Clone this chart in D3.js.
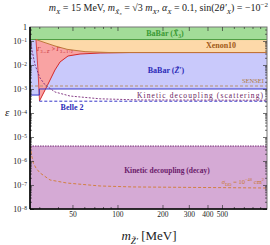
<!DOCTYPE html>
<html lang="en">
<head>
<meta charset="utf-8">
<script src="https://d3js.org/d3.v7.min.js"></script>
<style>
body { margin: 0; background: #fff; }
text { font-family: "Liberation Serif", serif; }
.lbl { font-weight: bold; }
</style>
</head>
<body>
<svg id="chart" width="270" height="245"></svg>
<script>
// axis ranges and ticks
var xDomain = [26, 1000];
var yDomain = [1e-8, Math.pow(10, -0.417)];
var xMajor = [50, 100, 200, 300, 400, 500];
var xMinor = [30, 40, 60, 70, 80, 90, 600, 700, 800, 900];
var yMajorExp = [-8, -7, -6, -5, -4, -3, -2, -1];

// constraint curves, [m_Z' (MeV), epsilon]
var babarX3Bottom = 0.115;
var xenonLower = [[28.5, 0.115], [32.8, 0.085], [38.2, 0.062], [46, 0.045], [60.7, 0.036], [89, 0.033], [1000, 0.033]];
var redTop = [[28.5, 0.115], [32.8, 0.085], [38.2, 0.062], [46, 0.045], [60.7, 0.036], [89, 0.033], [120, 0.033]];
var redLower = [[30.1, 3.2e-4], [32.8, 9.1e-4], [35.4, 0.00237], [38.2, 0.0062], [41.3, 0.0134], [46.7, 0.0237], [56.2, 0.0287], [76.5, 0.0316], [120, 0.033]];
var redLeft = [[28.5, 0.115], [29.4, 0.006], [30.1, 3.2e-4]];
var babarZLower = [[26, 5.6e-4], [30, 5.6e-4], [30, 1e-3], [1000, 1e-3]];
var sensei = 1.33e-3;
var belle2 = [[30, 3.1e-4], [1000, 3.1e-4]];
var scattering = [[26.2, 0.11], [26.8, 0.0422], [28.1, 0.01], [30.3, 0.0029], [32.8, 0.00148], [38.2, 7.5e-4], [48.1, 5.1e-4], [76.5, 3.9e-4], [141, 3.5e-4], [1000, 3.4e-4]];
var decayTop = 4.2e-6;
var sigma = [[26.2, 4.2e-6], [26.6, 1.78e-6], [27.35, 8.3e-7], [28.5, 5.1e-7], [30.3, 3.2e-7], [35.4, 1.62e-7], [45.8, 1.21e-7], [76.5, 9.1e-8], [127, 8.3e-8], [1000, 7.5e-8]];

var L = 30, R = 267, T = 27, B = 209;
var svg = d3.select("#chart");
var x = d3.scaleLog().domain(xDomain).range([L, R]);
var y = d3.scaleLog().domain(yDomain).range([B, T]);
var yTop = yDomain[1], yBot = yDomain[0];

var line = d3.line().x(function(d){ return x(d[0]); }).y(function(d){ return y(d[1]); });

function rich(g, parts, fs) {
  var t = g.append("text").style("font-size", fs + "px");
  var cur = 0;
  parts.forEach(function(p) {
    var mode = p[1] || "";
    var off = mode.indexOf("b") >= 0 ? fs * 0.3 : (mode.indexOf("p") >= 0 ? -fs * 0.4 : 0);
    var ts = t.append("tspan").attr("dy", off - cur).text(p[0]);
    if (off) ts.style("font-size", (fs * 0.7) + "px");
    if (mode.indexOf("i") >= 0) ts.style("font-style", "italic");
    cur = off;
  });
  return t;
}

var plot = svg.append("g");
plot.append("defs").append("clipPath").attr("id", "clip")
  .append("rect").attr("x", L).attr("y", T).attr("width", R - L).attr("height", B - T);
var area = plot.append("g").attr("clip-path", "url(#clip)");

// BaBar Z' (blue)
var bluePoly = [[xDomain[0], babarX3Bottom], [xDomain[1], babarX3Bottom]].concat(babarZLower.slice().reverse());
area.append("path").attr("d", line(bluePoly) + "Z").attr("fill", "#c9c9fb");
// BaBar X3 (green)
area.append("path").attr("d", line([[xDomain[0], yTop], [xDomain[1], yTop], [xDomain[1], babarX3Bottom], [xDomain[0], babarX3Bottom]]) + "Z")
  .attr("fill", "#a2dc98");
// Xenon10 (orange)
var orangePoly = [[xenonLower[0][0], babarX3Bottom], [xDomain[1], babarX3Bottom]].concat(xenonLower.slice().reverse());
area.append("path").attr("d", line(orangePoly) + "Z").attr("fill", "#fdd9a9");
// red region
var redPoly = redTop.concat(redLower.slice().reverse()).concat(redLeft.slice(1).reverse());
area.append("path").attr("d", line(redPoly) + "Z").attr("fill", "#f9a3a3");
// decay region
area.append("path").attr("d", line([[xDomain[0], decayTop], [xDomain[1], decayTop], [xDomain[1], yBot], [xDomain[0], yBot]]) + "Z")
  .attr("fill", "#d5aad5");

// boundary lines
area.append("path").attr("d", line([[xDomain[0], babarX3Bottom], [xDomain[1], babarX3Bottom]]))
  .attr("stroke", "#4c9c40").attr("stroke-width", 1).attr("fill", "none");
area.append("path").attr("d", line(redLower.concat([[1000, 0.033]])))
  .attr("stroke", "#d42828").attr("stroke-width", 1).attr("fill", "none");
area.append("path").attr("d", line(redLeft))
  .attr("stroke", "#d42828").attr("stroke-width", 0.8).attr("fill", "none");
area.append("path").attr("d", line(xenonLower))
  .attr("stroke", "#c07838").attr("stroke-width", 1).attr("fill", "none");
area.append("path").attr("d", line(babarZLower))
  .attr("stroke", "#3434c8").attr("stroke-width", 1).attr("fill", "none");
area.append("path").attr("d", line([[xDomain[0], sensei], [xDomain[1], sensei]]))
  .attr("stroke", "#b89070").attr("stroke-width", 1.1).attr("stroke-dasharray", "3,2").attr("fill", "none");
area.append("path").attr("d", line(belle2))
  .attr("stroke", "#3434c8").attr("stroke-width", 1).attr("stroke-dasharray", "3,2").attr("fill", "none");
area.append("path").attr("d", line(scattering))
  .attr("stroke", "#7a2a7a").attr("stroke-width", 0.9).attr("stroke-dasharray", "2,1.5").attr("fill", "none");
area.append("path").attr("d", line([[xDomain[0], decayTop], [xDomain[1], decayTop]]))
  .attr("stroke", "#6a1a6a").attr("stroke-width", 0.9).attr("stroke-dasharray", "1.5,1").attr("fill", "none");
area.append("path").attr("d", line(sigma))
  .attr("stroke", "#d07a30").attr("stroke-width", 0.9).attr("stroke-dasharray", "3,2").attr("fill", "none");

// region labels
var labels = plot.append("g");
rich(labels, [["BaBar ("], ["X̃", "i"], ["3", "b"], [")"]], 8).attr("class", "lbl")
  .attr("x", 165).attr("y", 36).attr("text-anchor", "middle").attr("fill", "#3a9a34");
labels.append("text").attr("class", "lbl").attr("x", 221).attr("y", 48).attr("text-anchor", "middle")
  .style("font-size", "8px").attr("fill", "#a05a18").text("Xenon10");
rich(labels, [["BaBar ("], ["Z̃′", "i"], [")"]], 8).attr("class", "lbl")
  .attr("x", 166).attr("y", 73).attr("text-anchor", "middle").attr("fill", "#2c2cb8");
labels.append("text").attr("x", 264).attr("y", 83).attr("text-anchor", "end")
  .style("font-size", "6.5px").attr("fill", "#b07a40").text("SENSEI");
labels.append("text").attr("x", 137).attr("y", 98).attr("textLength", 126)
  .style("font-size", "7.5px").attr("fill", "#6a1a60").text("Kinetic decoupling (scattering)");
labels.append("text").attr("class", "lbl").attr("x", 72).attr("y", 110).attr("text-anchor", "middle")
  .style("font-size", "8px").attr("fill", "#2c2cb8").text("Belle 2");
labels.append("text").attr("class", "lbl").attr("x", 167).attr("y", 173).attr("text-anchor", "middle")
  .style("font-size", "7.5px").attr("fill", "#6a1a6a").text("Kinetic decoupling (decay)");
rich(labels, [["σ", "i"], ["DD", "b"], [" = 10"], ["−48", "p"], [" cm"], ["2", "p"]], 6.5)
  .attr("x", 264).attr("y", 184).attr("text-anchor", "end").attr("fill", "#c87830");
rich(labels, [["Γ", "i"], ["3→Z′", "b"], [" > "], ["Γ", "i"], ["3→1+2", "b"]], 6)
  .attr("x", 37).attr("y", 51).attr("fill", "#c02020");

// frame
svg.append("rect").attr("x", L).attr("y", T).attr("width", R - L).attr("height", B - T)
  .attr("fill", "none").attr("stroke", "#777").attr("stroke-width", 1);

// axes with inward ticks
var yMajor = yMajorExp.map(function(e){ return Math.pow(10, e); });
var yMinor = [];
yMajorExp.forEach(function(e) {
  for (var k = 2; k <= 9; k++) {
    var v = k * Math.pow(10, e);
    if (v < yTop) yMinor.push(v);
  }
});

function addAxis(axisFn, scale, major, minor, transform, labelled) {
  var g = svg.append("g").attr("transform", transform);
  var a = axisFn(scale).tickValues(major).tickSize(-4).tickPadding(3);
  if (!labelled) a.tickFormat("");
  g.call(a);
  var gm = svg.append("g").attr("transform", transform);
  gm.call(axisFn(scale).tickValues(minor).tickSize(-2).tickFormat(""));
  [g, gm].forEach(function(s) {
    s.select(".domain").remove();
    s.selectAll("line").attr("stroke", "#333").attr("stroke-width", 0.7);
  });
  return g;
}

var yAx = addAxis(d3.axisLeft, y, yMajor, yMinor, "translate(" + L + ",0)", true);
yAx.selectAll("text").each(function(d) {
  var t = d3.select(this).text("").style("font-size", "8px").attr("fill", "#222");
  var e = Math.round(Math.log10(d));
  t.append("tspan").text("10");
  t.append("tspan").attr("dy", "-0.45em").style("font-size", "5.5px").text("−" + (-e));
});
// top-corner label of the y axis
svg.append("text").attr("x", L - 3).attr("y", y(yTop) + 3).attr("text-anchor", "end")
  .style("font-size", "8px").attr("fill", "#222").text("1");
addAxis(d3.axisRight, y, yMajor, yMinor, "translate(" + R + ",0)", false);
var xAx = addAxis(d3.axisBottom, x, xMajor, xMinor, "translate(0," + B + ")", true);
xAx.selectAll("text").style("font-size", "7.5px").attr("fill", "#222").text(function(d){ return d; });
addAxis(d3.axisTop, x, xMajor, xMinor, "translate(0," + T + ")", false);

// thick left / bottom axis lines
svg.append("line").attr("x1", L).attr("x2", L).attr("y1", T).attr("y2", B).attr("stroke", "#000").attr("stroke-width", 1.6);
svg.append("line").attr("x1", L).attr("x2", R).attr("y1", B).attr("y2", B).attr("stroke", "#000").attr("stroke-width", 1.6);

// titles
rich(svg, [["m", "i"], ["X", "bi"], [" = 15 MeV, "], ["m", "i"], ["X̃₃", "bi"], [" = √3 "], ["m", "i"], ["X", "bi"], [",  "],
  ["α", "i"], ["X", "bi"], [" = 0.1,   sin(2"], ["θ′", "i"], ["X", "bi"], [") = −10"], ["−2", "p"]], 10)
  .attr("x", 268).attr("y", 11).attr("text-anchor", "end").attr("fill", "#222");
rich(svg, [["ε", "i"]], 11).attr("x", 5).attr("y", 116).attr("fill", "#222");
rich(svg, [["m", "i"], ["Z̃′", "bi"], [" [MeV]"]], 13).attr("x", 149).attr("y", 240).attr("text-anchor", "middle").attr("fill", "#222");
</script>
</body>
</html>
